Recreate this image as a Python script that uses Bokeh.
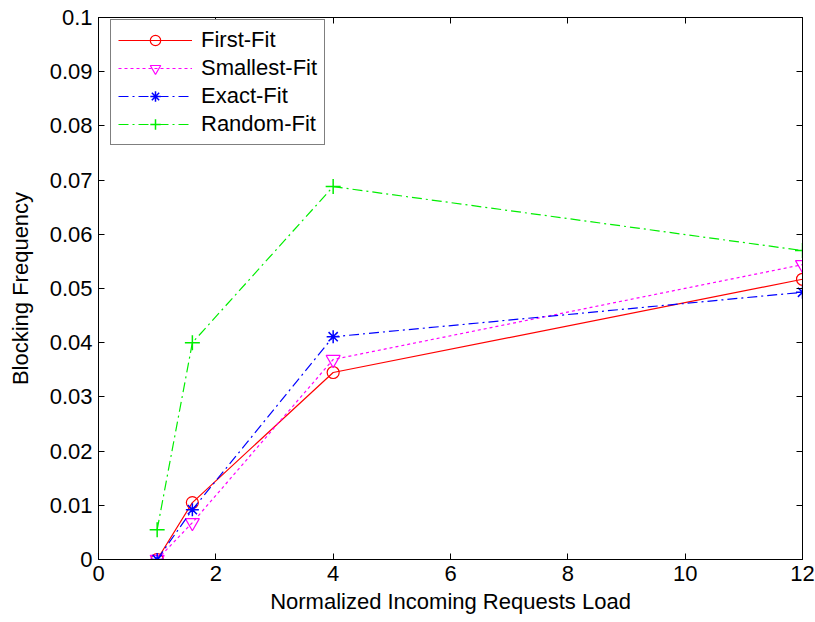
from bokeh.plotting import figure
from bokeh.models import LinearAxis, Range1d, FixedTicker, Legend, LegendItem, CustomLabelingPolicy
from bokeh.embed import file_html
from bokeh.resources import INLINE

load = [1, 1.6, 4, 12]
first_fit = [0.0, 0.0105, 0.0345, 0.0517]
smallest_fit = [0.0, 0.0068, 0.0369, 0.0544]
exact_fit = [0.0, 0.0092, 0.0411, 0.0493]
random_fit = [0.0055, 0.0400, 0.0688, 0.0570]

x_ticks = [0, 2, 4, 6, 8, 10, 12]
y_ticks = [0, 0.01, 0.02, 0.03, 0.04, 0.05, 0.06, 0.07, 0.08, 0.09, 0.1]
x_tick_labels = ["0", "2", "4", "6", "8", "10", "12"]
y_tick_labels = ["0", "0.01", "0.02", "0.03", "0.04", "0.05", "0.06", "0.07", "0.08", "0.09", "0.1"]

FONT = "Liberation Sans"
FS = "22px"

p = figure(width=815, height=622, output_backend="svg", toolbar_location=None,
           x_range=Range1d(0, 12), y_range=Range1d(0, 0.1),
           min_border_left=98, min_border_right=13, min_border_top=17, min_border_bottom=63)
p.xgrid.visible = False
p.ygrid.visible = False
p.outline_line_color = "black"
p.outline_line_width = 1
p.background_fill_color = "white"
p.border_fill_color = "white"

p.xaxis.ticker = FixedTicker(ticks=x_ticks)
p.yaxis.ticker = FixedTicker(ticks=y_ticks)
p.xaxis.major_label_overrides = dict(zip(x_ticks, x_tick_labels))
p.yaxis.major_label_overrides = dict(zip(y_ticks, y_tick_labels))
p.xaxis.axis_label = "Normalized Incoming Requests Load"
p.yaxis.axis_label = "Blocking Frequency"
for ax in (p.xaxis[0], p.yaxis[0]):
    ax.major_tick_in = 6
    ax.major_tick_out = 0
    ax.minor_tick_in = 0
    ax.minor_tick_out = 0
    ax.axis_line_color = "black"
    ax.major_label_text_font = FONT
    ax.major_label_text_font_size = FS
    ax.major_label_text_color = "black"
    ax.axis_label_text_font = FONT
    ax.axis_label_text_font_size = FS
    ax.axis_label_text_font_style = "normal"
    ax.axis_label_text_color = "black"
p.xaxis.major_label_standoff = 6
p.yaxis.major_label_standoff = 6
p.xaxis.axis_label_standoff = 5
p.yaxis.axis_label_standoff = 14

no_labels = CustomLabelingPolicy(code="return indices.constructor.all_unset(indices.size)")
top = LinearAxis(ticker=FixedTicker(ticks=x_ticks), major_label_policy=no_labels,
                 major_label_text_font_size="0px",
                 major_tick_in=6, major_tick_out=0, minor_tick_in=0, minor_tick_out=0,
                 major_label_standoff=0)
right = LinearAxis(ticker=FixedTicker(ticks=y_ticks), major_label_policy=no_labels,
                   major_label_text_font_size="0px",
                   major_tick_in=6, major_tick_out=0, minor_tick_in=0, minor_tick_out=0,
                   major_label_standoff=0)
p.add_layout(top, "above")
p.add_layout(right, "right")

DASHDOT = "10 4 2 4"

l1 = p.line(load, first_fit, line_color="red", line_width=1.2)
m1 = p.scatter(load, first_fit, marker="circle", size=12, fill_color=None, line_color="red", line_width=1.2)
l2 = p.line(load, smallest_fit, line_color="magenta", line_width=1.2, line_dash="3 3")
m2 = p.scatter(load, smallest_fit, marker="inverted_triangle", size=14, fill_color=None, line_color="magenta", line_width=1.2)
l3 = p.line(load, exact_fit, line_color="blue", line_width=1.2, line_dash=DASHDOT)
m3 = p.scatter(load, exact_fit, marker="asterisk", size=13, line_color="blue", line_width=1.5)
l4 = p.line(load, random_fit, line_color="#00ee00", line_width=1.2, line_dash=DASHDOT)
m4 = p.scatter(load, random_fit, marker="cross", size=15, line_color="#00ee00", line_width=1.5)

legend = Legend(items=[
    LegendItem(label="First-Fit", renderers=[l1, m1]),
    LegendItem(label="Smallest-Fit", renderers=[l2, m2]),
    LegendItem(label="Exact-Fit", renderers=[l3, m3]),
    LegendItem(label="Random-Fit", renderers=[l4, m4]),
], location=(12, 414))
legend.label_text_font = FONT
legend.label_text_font_size = FS
legend.label_text_color = "black"
legend.glyph_width = 74
legend.glyph_height = 26
legend.label_height = 26
legend.label_standoff = 9
legend.spacing = 2
legend.padding = 7
legend.margin = 0
legend.border_line_color = "black"
legend.border_line_width = 1
legend.background_fill_alpha = 1
p.add_layout(legend)

open("out.html", "w").write(file_html(p, INLINE))
